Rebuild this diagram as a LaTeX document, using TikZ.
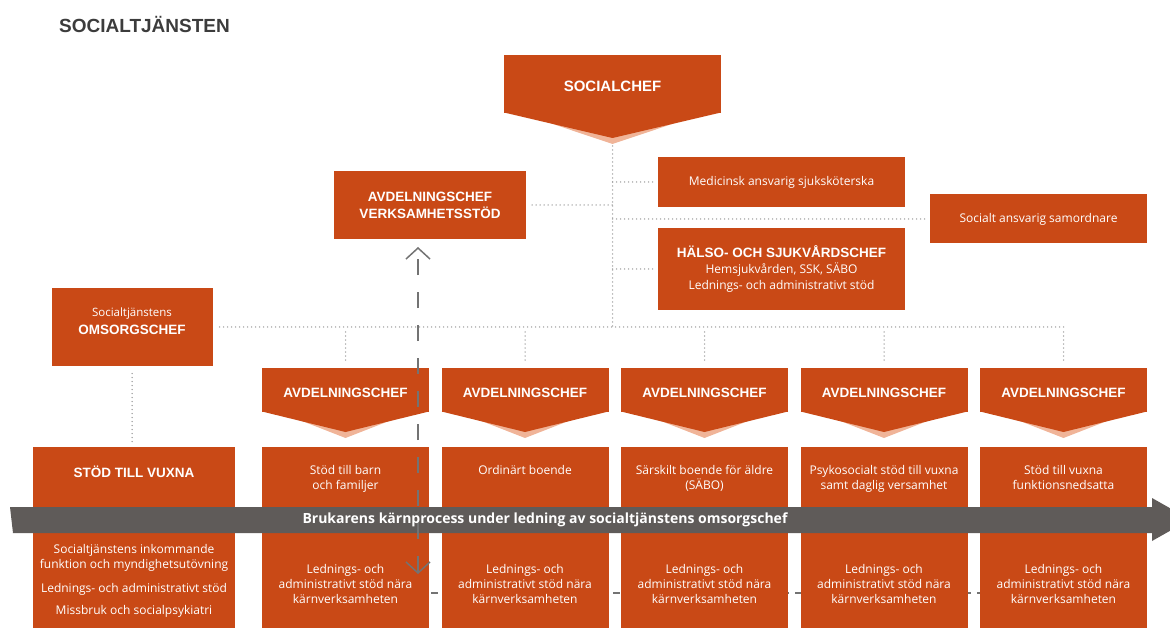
\documentclass[tikz,border=0pt]{standalone}
\usepackage{fontspec}
\setmainfont{Open Sans}
\newfontfamily\capsfont{Liberation Sans}
\usetikzlibrary{calc}
\usetikzlibrary{arrows.meta}
\usetikzlibrary{positioning}
\usetikzlibrary{backgrounds}
\definecolor{orgc}{RGB}{201,73,22}
\definecolor{chevshade}{RGB}{240,180,152}
\definecolor{bandgray}{RGB}{95,91,89}
\definecolor{linegray}{RGB}{155,155,155}
\definecolor{arrowgray}{RGB}{115,115,115}
\definecolor{titlegray}{RGB}{60,60,60}
\newcommand{\capsfnt}{\capsfont\bfseries\fontsize{13.5}{17}\selectfont}
\newcommand{\bodyfnt}{\fontsize{12}{15}\selectfont}
\newcommand{\chevtail}[2]{%
	\fill[chevshade] ($(#1.south west)+(22,2)$) -- ($(#1.south)+(0,#2+6)$) -- ($(#1.south east)+(-22,2)$) -- cycle;
	\fill[orgc] ($(#1.south west)+(0,-0.5)$) -- ($(#1.south)+(0,#2)$) -- ($(#1.south east)+(0,-0.5)$) -- cycle;
}
\tikzset{
	orgbox/.style={rectangle, fill=orgc, text=white, align=center, inner sep=0pt, outer sep=0pt},
	chevron/.style={orgbox, minimum width=167pt, minimum height=44pt, font=\capsfnt, text height=14pt, text depth=0pt},
	unitbox/.style={orgbox, minimum width=167pt, minimum height=181pt},
	boxtext/.style={text=white, align=center, inner sep=0pt, font=\bodyfnt},
	dotline/.style={draw=linegray, line width=1.5pt, line cap=round, dash pattern=on 0pt off 4pt},
	hlink/.style={draw=arrowgray, line width=1.4pt, dash pattern=on 7pt off 6pt},
	vlink/.style={draw=arrowgray, line width=1.5pt, dash pattern=on 16pt off 17pt,
		{Straight Barb[length=11pt, width=24pt]}-{Straight Barb[length=11pt, width=24pt]}}
}

\begin{document}
\begin{tikzpicture}[x=1pt, y=-1pt]
\useasboundingbox (0,0) rectangle (1170,628);

\node[anchor=west, text=titlegray, inner sep=0pt, font=\capsfont\bfseries\fontsize{19}{22}\selectfont] (title) at (59,24) {SOCIALTJÄNSTEN};

% ledning
\node[orgbox, minimum width=217pt, minimum height=58pt, font=\capsfont\bfseries\fontsize{15}{18}\selectfont, text height=15pt, text depth=0pt] (socialchef) at (612.5,84) {SOCIALCHEF};
\chevtail{socialchef}{25}

\node[orgbox, minimum width=192pt, minimum height=68pt, font=\capsfnt] (vstod) at (430,205)
	{AVDELNINGSCHEF\\VERKSAMHETSSTÖD};

\node[orgbox, minimum width=247pt, minimum height=50pt, font=\bodyfnt] (msk) at (781.5,182)
	{Medicinsk ansvarig sjuksköterska};

\node[orgbox, minimum width=217pt, minimum height=49pt, font=\bodyfnt] (sas) at (1038.5,219)
	{Socialt ansvarig samordnare};

\node[orgbox, minimum width=247pt, minimum height=82pt, font=\fontsize{12}{16.5}\selectfont] (hsc) at (781.5,269)
	{{\capsfnt HÄLSO- OCH SJUKVÅRDSCHEF}\\[-1pt]Hemsjukvården, SSK, SÄBO\\Lednings- och administrativt stöd};

\node[orgbox, minimum width=161pt, minimum height=77pt, font=\fontsize{11.5}{18}\selectfont, text depth=12pt] (omsorg) at (132,327)
	{Socialtjänstens\\{\capsfnt OMSORGSCHEF}};

% avdelningschefer
\node[chevron] (avd1) at (345.5,390) {AVDELNINGSCHEF};
\chevtail{avd1}{20}
\node[chevron] (avd2) at (525,390) {AVDELNINGSCHEF};
\chevtail{avd2}{20}
\node[chevron] (avd3) at (704.5,390) {AVDELNINGSCHEF};
\chevtail{avd3}{20}
\node[chevron] (avd4) at (884,390) {AVDELNINGSCHEF};
\chevtail{avd4}{20}
\node[chevron] (avd5) at (1063.5,390) {AVDELNINGSCHEF};
\chevtail{avd5}{20}

% verksamheter
\node[orgbox, minimum width=202pt, minimum height=181pt] (stod) at (134,537.5) {};
\node[unitbox] (unit1) at (345.5,537.5) {};
\node[unitbox] (unit2) at (525,537.5) {};
\node[unitbox] (unit3) at (704.5,537.5) {};
\node[unitbox] (unit4) at (884,537.5) {};
\node[unitbox] (unit5) at (1063.5,537.5) {};

\node[boxtext, font=\capsfnt, below=19pt of stod.north] (stodtop) {STÖD TILL VUXNA};
\node[boxtext, below=97pt of stod.north] (stodlow)
	{Socialtjänstens inkommande\\funktion och myndighetsutövning\\[9pt]Lednings- och administrativt stöd\\[7pt]Missbruk och socialpsykiatri};

\node[boxtext, below=18pt of unit1.north] (unit1top) {Stöd till barn\\och familjer};
\node[boxtext, below=18pt of unit2.north] (unit2top) {Ordinärt boende};
\node[boxtext, below=18pt of unit3.north] (unit3top) {Särskilt boende för äldre\\(SÄBO)};
\node[boxtext, below=18pt of unit4.north] (unit4top) {Psykosocialt stöd till vuxna\\samt daglig versamhet};
\node[boxtext, below=18pt of unit5.north] (unit5top) {Stöd till vuxna\\funktionsnedsatta};

\node[boxtext, below=117pt of unit1.north] (unit1low) {Lednings- och\\administrativt stöd nära\\kärnverksamheten};
\node[boxtext, below=117pt of unit2.north] (unit2low) {Lednings- och\\administrativt stöd nära\\kärnverksamheten};
\node[boxtext, below=117pt of unit3.north] (unit3low) {Lednings- och\\administrativt stöd nära\\kärnverksamheten};
\node[boxtext, below=117pt of unit4.north] (unit4low) {Lednings- och\\administrativt stöd nära\\kärnverksamheten};
\node[boxtext, below=117pt of unit5.north] (unit5low) {Lednings- och\\administrativt stöd nära\\kärnverksamheten};

% linjer
\coordinate (trunk) at (socialchef.south |- omsorg.east);
\draw[dotline] ($(socialchef.south)+(0,33)$) -- (trunk);
\draw[dotline, shorten <=6pt] (vstod.east) -- (vstod.east -| trunk);
\draw[dotline, shorten >=5pt] (msk.west -| trunk) -- (msk.west);
\draw[dotline, shorten >=5pt] (sas.west -| trunk) -- (sas.west);
\draw[dotline, shorten >=5pt] (hsc.west -| trunk) -- (hsc.west);
\draw[dotline, shorten <=7pt] (omsorg.east) -- (omsorg.east -| avd5.north);
\draw[dotline, shorten <=5pt, shorten >=5pt] (omsorg.east -| avd1.north) -- (avd1.north);
\draw[dotline, shorten <=5pt, shorten >=5pt] (omsorg.east -| avd2.north) -- (avd2.north);
\draw[dotline, shorten <=5pt, shorten >=5pt] (omsorg.east -| avd3.north) -- (avd3.north);
\draw[dotline, shorten <=5pt, shorten >=5pt] (omsorg.east -| avd4.north) -- (avd4.north);
\draw[dotline, shorten <=5pt, shorten >=5pt] (omsorg.east -| avd5.north) -- (avd5.north);
\draw[dotline, shorten <=8pt, shorten >=3pt] (omsorg.south) -- (omsorg.south |- stod.north);

\coordinate (vtop) at (418,247);
\coordinate (vbot) at (418,574);
\coordinate (hline) at (418,593);
\begin{scope}[on background layer]
\draw[hlink] (hline) -- (hline -| unit5.west);
\end{scope}

% kärnprocess
\fill[bandgray] (10,507) -- (1152,507) -- (1152,498) -- (1190,519.5) -- (1152,541) -- (1152,533) -- (13,533) -- cycle;
\node[text=white, inner sep=0pt, font=\bfseries\fontsize{14}{17}\selectfont] (band) at (545,520)
	{Brukarens kärnprocess under ledning av socialtjänstens omsorgschef};

\draw[vlink] (vbot) -- (vtop);

\end{tikzpicture}
\end{document}
